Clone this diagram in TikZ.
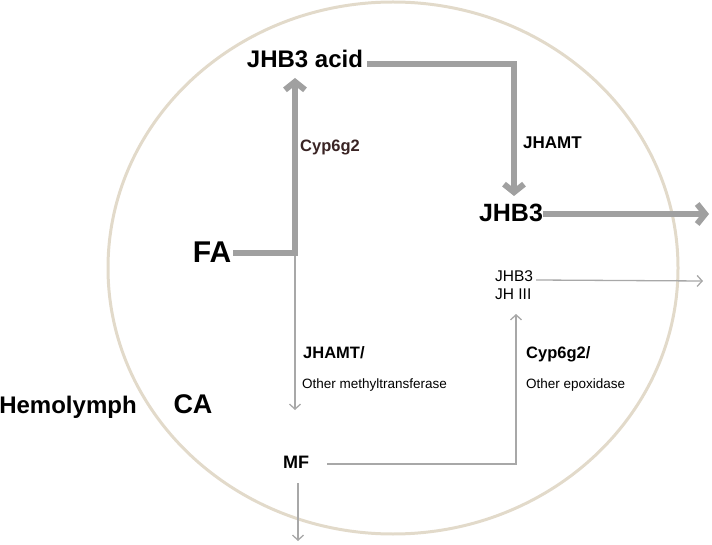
\documentclass[tikz,border=0pt]{standalone}
\usepackage{fontspec}
\setmainfont{Liberation Sans}
\usetikzlibrary{arrows.meta}
\definecolor{thickgray}{HTML}{A0A0A0}
\definecolor{thingray}{HTML}{A8A8A8}
\definecolor{beige}{HTML}{E2DACA}
\definecolor{cypcol}{HTML}{3A2424}
\tikzset{
  lbl/.style={inner sep=0pt, anchor=base},
  thick arr/.style={draw=thickgray, line width=6pt, -{Straight Barb[length=8pt,width=20pt]}},
  thin arr/.style={draw=thingray, line width=1.3pt, -{Straight Barb[length=5pt,width=11pt]}},
  thin line/.style={draw=thingray, line width=1.3pt},
}
\begin{document}
\begin{tikzpicture}[x=1pt,y=-1pt]
\useasboundingbox (0,0) rectangle (712,545);
% cell outline
\draw[beige, line width=3pt] (393,268) ellipse [x radius=285, y radius=266];
% labels
\node[lbl, font=\bfseries\fontsize{24}{24}\selectfont] (acid) at (305,68) {JHB3 acid};
\node[lbl, font=\bfseries\fontsize{25}{25}\selectfont] (jhb3) at (511,222) {JHB3};
\node[lbl, font=\bfseries\fontsize{30}{30}\selectfont] (fa) at (212,263) {FA};
\node[lbl, font=\bfseries\fontsize{24}{24}\selectfont] (hemo) at (68,413) {Hemolymph};
\node[lbl, font=\bfseries\fontsize{27}{27}\selectfont] (ca) at (193,413) {CA};
\node[lbl, font=\bfseries\fontsize{18}{18}\selectfont] (mf) at (296,468) {MF};
\node[lbl, anchor=base west, font=\bfseries\fontsize{17}{17}\selectfont] (jhamt) at (523,149) {JHAMT};
\node[lbl, anchor=base west, text=cypcol, font=\bfseries\fontsize{16.5}{16.5}\selectfont] (cyp) at (300,152) {Cyp6g2};
\node[lbl, anchor=base west, font=\bfseries\fontsize{16.5}{16.5}\selectfont] (jhamt2) at (303,358) {JHAMT/};
\node[lbl, anchor=base west, font=\fontsize{13.5}{13.5}\selectfont] (omt) at (302,388) {Other methyltransferase};
\node[lbl, anchor=base west, font=\bfseries\fontsize{16.5}{16.5}\selectfont] (cyp2) at (526,358) {Cyp6g2/};
\node[lbl, anchor=base west, font=\fontsize{13.5}{13.5}\selectfont] (oep) at (526,388) {Other epoxidase};
\node[lbl, anchor=base west, font=\fontsize{15.5}{15.5}\selectfont] (jhb3s) at (495,282) {JHB3};
\node[lbl, anchor=base west, font=\fontsize{15.5}{15.5}\selectfont] (jh3) at (495,300) {JH III};
% coordinates
\coordinate (fastart) at (233,253);
\coordinate (facorner) at (295,253);
\coordinate (acidtip) at (295,78);
\coordinate (acidend) at (367,64);
\coordinate (topcorner) at (514,64);
\coordinate (jhamttip) at (514,196);
\coordinate (jhb3start) at (543,214);
\coordinate (jhb3end) at (709,214);
\coordinate (thinstart) at (295,256);
\coordinate (mftip) at (295,410);
\coordinate (mfstart) at (327,464);
\coordinate (mfcorner) at (516,464);
\coordinate (jh3tip) at (516,314);
\coordinate (outstart) at (536,280);
\coordinate (outtip) at (703,281);
\coordinate (mfdown) at (298,483);
\coordinate (mfout) at (298,541);
% thick paths
\draw[thick arr] (fastart) -- (facorner) -- (acidtip);
\draw[thick arr] (acidend) -- (topcorner) -- (jhamttip);
\draw[thick arr] (jhb3start) -- (jhb3end);
% thin paths
\draw[thin arr] (thinstart) -- (mftip);
\draw[thin arr] (mfstart) -- (mfcorner) -- (jh3tip);
\draw[thin arr] (outstart) -- (outtip);
\draw[thin arr] (mfdown) -- (mfout);
\end{tikzpicture}
\end{document}
